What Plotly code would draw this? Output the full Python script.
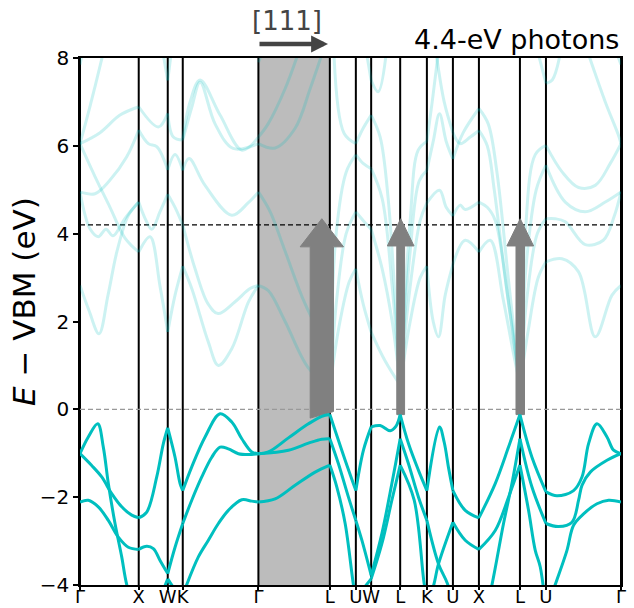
import plotly.graph_objects as go

# ---------------- k-path (ticks) ----------------
K_TICKS = [0.0, 5.87, 8.77, 10.27, 17.83, 24.97, 27.57, 29.1, 32.0, 34.67, 37.27, 39.87, 43.97, 46.57, 54.07]
K_LABELS = ["Γ", "X", "W", "K", "Γ", "L", "U", "W", "L", "K", "U", "X", "L", "U", "Γ"]
E_RANGE = [-4, 8]
E_VBM = 0.0
E_PHOTON = 4.2
SHADE_K = [17.83, 24.97]

# ---------------- valence bands ----------------
VB1_K = [0, 1.17, 2.17, 3.17, 4.17, 5.17, 5.87, 6.67, 7.67, 8.33, 8.77, 9.5, 10.0, 10.27, 11.17, 12.5, 14.0, 15.17,
         16.17, 17.17, 17.83, 18.83, 20.83, 22.83, 24.17, 24.97, 25.5, 26.5, 27.57, 28.33, 29.1, 30.0, 31.0, 31.57,
         32.0, 32.83, 33.83, 34.67, 35.93, 36.4, 36.85, 37.27, 38.5, 39.87, 41.5, 42.83, 43.97, 45.17, 46.57, 47.67,
         49.33, 50.17, 50.83, 51.67, 52.67, 53.33, 54.07]
VB1_E = [-1.01, -1.28, -1.54, -1.92, -2.22, -2.41, -2.47, -2.34, -1.54, -0.78, -0.42, -1.09, -1.69, -1.85, -1.31,
         -0.63, -0.10, -0.29, -0.67, -0.97, -1.01, -0.97, -0.65, -0.33, -0.16, -0.12, -0.48, -1.16, -1.85, -0.93,
         -0.40, -0.37, -0.49, -0.39, -0.12, -0.78, -1.39, -1.85, -0.40, -0.75, -1.35, -1.85, -2.30, -2.47, -1.69,
         -0.86, -0.12, -1.09, -1.88, -1.97, -1.85, -1.54, -0.78, -0.33, -0.63, -0.93, -1.01]

VB2_K = [0, 0.83, 1.77, 2.33, 2.83, 3.5, 4.17, 4.67, 5.87]
VB2_E = [-1.01, -0.63, -0.33, -0.86, -1.69, -2.60, -3.36, -3.99, -4.9]

VB3_K = [0, 0.83, 1.83, 2.83, 3.83, 4.83, 5.87, 6.67, 7.33, 8.0, 8.77, 9.5, 10.27, 11.17, 12.17, 13.17, 14.0, 14.83,
         15.83, 16.83, 17.83, 20.83, 22.83, 24.17, 24.97, 25.83, 26.83, 27.57, 28.17, 29.1, 30.17, 31.17, 32.0, 32.83,
         33.83, 34.67, 35.83, 36.73, 37.27, 39.87, 41.17, 42.33, 43.17, 43.97, 45.17, 46.57, 47.83, 49.17, 49.83,
         50.17, 51.0, 52.67, 54.07]
VB3_E = [-2.11, -2.07, -2.22, -2.53, -2.91, -3.14, -3.19, -3.12, -3.17, -3.44, -3.74, -3.14, -2.60, -2.07, -1.54,
         -1.09, -0.86, -0.90, -1.01, -1.03, -1.01, -0.93, -0.77, -0.68, -0.67, -1.24, -2.0, -2.53, -2.98, -3.78,
         -2.83, -1.69, -0.67, -1.24, -2.0, -2.53, -3.52, -3.97, -4.4, -5.3, -4.0, -2.6, -1.69, -0.67, -1.77, -2.6,
         -2.67, -2.57, -2.07, -1.73, -1.43, -1.16, -1.01]

VB4_K = [5.87, 7.5, 8.77, 9.5, 10.27, 10.67, 11.83, 12.83, 13.83, 14.83, 16.17, 17.17, 17.83, 19.5, 21.5, 23.5, 24.97,
         25.67, 26.5, 27.33, 27.57, 29.1, 30.17, 31.17, 32.0, 33.4, 34.4, 34.67, 35.2, 35.83, 37.27, 38.5, 39.87,
         41.5, 42.83, 43.97, 44.83, 45.5, 46.0, 46.57, 47.5, 48.67, 49.33, 50.33, 51.67, 52.83, 54.07]
VB4_E = [-5.0, -4.5, -3.86, -4.1, -4.25, -3.99, -3.36, -2.98, -2.60, -2.30, -2.06, -2.09, -2.11, -2.04, -1.73, -1.43,
         -1.27, -1.77, -2.6, -4.0, -4.3, -3.86, -3.06, -2.07, -1.27, -2.07, -3.97, -4.25, -4.1, -3.52, -2.57, -2.98,
         -3.19, -2.76, -2.0, -1.27, -2.30, -3.21, -3.59, -4.6, -3.99, -3.21, -2.64, -2.38, -2.15, -2.07, -2.11]

# ---------------- conduction bands ----------------
CB01_K = [0, 0.9, 1.9, 2.8, 3.7, 4.8, 5.87, 6.5, 7.17, 8.0, 8.77, 9.5, 10.27, 11.5, 12.8, 13.8, 15.5, 17.0, 17.83]
CB01_E = [2.82, 2.25, 1.72, 2.6, 3.6, 4.4, 4.72, 4.35, 4.1, 4.5, 4.9, 4.6, 4.2, 3.2, 2.4, 2.18, 2.45, 2.75, 2.82]
CB02_K = [0, 1.5, 3.0, 4.67, 5.87, 6.83, 7.67, 8.77, 9.5, 10.27, 10.9, 12.5, 15.17, 16.8, 17.83]
CB02_E = [4.95, 4.91, 5.22, 5.75, 6.36, 6.05, 5.98, 5.45, 5.8, 5.44, 5.71, 5.1, 4.42, 4.7, 4.95]
CB03_K = [0, 1.5, 3.0, 4.5, 5.87, 7.0, 8.0, 8.77, 9.5, 10.27, 11.17, 12.83, 13.83, 15.17, 16.83, 17.83]
CB03_E = [6.05, 5.3, 4.6, 3.9, 3.58, 3.93, 2.8, 1.76, 2.6, 3.26, 2.75, 1.53, 1.0, 1.38, 2.44, 2.82]
CB04_K = [0, 2.0, 4.0, 5.87, 7.83, 8.77, 9.33, 10.27, 11.2, 12.0, 13.5, 15.3, 17.83]
CB04_E = [6.05, 6.3, 6.7, 6.89, 6.43, 6.74, 6.2, 6.13, 6.9, 7.45, 6.5, 5.94, 6.05]
CB05_K = [0, 1.0, 2.2, 2.8]
CB05_E = [6.05, 6.9, 8.0, 8.6]
CB06_K = [10.27, 11.0, 12.0, 14.0, 16.2, 17.83]
CB06_E = [6.17, 7.0, 7.5, 6.7, 5.9, 6.2]
CB07_K = [0, 0.6]
CB07_E = [7.85, 8.5]
CB08_K = [8.0, 8.77, 9.33]
CB08_E = [8.5, 7.49, 8.5]
CB09_K = [0, 1.0, 1.83, 2.6, 3.3, 4.5, 5.87]
CB09_E = [4.95, 4.11, 3.93, 4.1, 3.95, 4.35, 4.72]
CB10_K = [17.83, 18.83, 20.5, 22.8, 24.97]
CB10_E = [2.82, 2.7, 2.0, 0.95, 0.5]
CB11_K = [17.83, 19.0, 20.5, 22.5, 24.97]
CB11_E = [4.95, 4.5, 3.6, 2.4, 1.3]
CB12_K = [17.83, 19.5, 21.5, 23.0, 24.2]
CB12_E = [6.05, 5.95, 6.4, 7.3, 8.1]
CB13_K = [17.83, 18.8, 20.5, 21.8]
CB13_E = [6.2, 6.5, 7.3, 8.1]
CB14_K = [17.83, 18.5]
CB14_E = [7.9, 8.3]
CB15_K = [24.97, 25.9, 26.9, 27.57, 28.3, 29.1, 30.5, 32.0]
CB15_E = [0.5, 1.9, 2.9, 3.2, 2.4, 1.76, 1.1, 0.55]
CB16_K = [24.97, 25.7, 26.6, 27.57, 28.3, 29.1, 30.2, 31.2, 32.0]
CB16_E = [0.5, 2.6, 4.0, 4.5, 4.3, 4.1, 3.2, 2.0, 0.55]
CB17_K = [24.97, 25.6, 26.6, 27.57, 28.3, 29.1, 30.2, 31.2, 32.0]
CB17_E = [0.5, 4.0, 5.4, 5.8, 5.6, 5.48, 4.8, 2.8, 0.55]
CB18_K = [25.4, 26.4, 27.57, 28.3, 29.1, 30.0, 30.8, 31.5, 32.0]
CB18_E = [8.0, 6.28, 6.05, 6.4, 6.7, 6.2, 4.8, 2.5, 0.55]
CB19_K = [28.5, 29.1, 29.8, 30.6]
CB19_E = [8.3, 7.49, 7.23, 8.1]
CB20_K = [32.0, 33.0, 34.0, 34.67, 35.3, 35.83, 36.5, 37.27, 38.5, 39.87, 41.0, 42.3, 43.3, 43.97]
CB20_E = [0.55, 2.0, 3.0, 3.26, 2.0, 1.65, 2.6, 3.3, 3.85, 3.58, 3.85, 2.5, 1.3, 0.55]
CB21_K = [32.0, 33.0, 34.0, 34.67, 35.93, 36.6, 37.27, 38.0, 38.5, 39.87, 40.7, 41.5, 42.8, 43.97]
CB21_E = [0.55, 2.8, 4.3, 4.7, 4.99, 4.6, 4.4, 4.65, 4.55, 4.72, 4.6, 4.3, 2.5, 0.55]
CB22_K = [32.0, 33.0, 33.9, 34.67, 35.3, 35.93, 36.6, 37.27, 38.3, 39.87, 40.8, 41.67, 42.8, 43.97]
CB22_E = [0.55, 3.6, 5.2, 5.44, 6.1, 6.73, 6.1, 5.7, 6.3, 6.85, 6.5, 5.4, 3.0, 0.55]
CB23_K = [32.0, 33.0, 33.8, 34.67, 35.2, 35.8]
CB23_E = [0.55, 4.3, 5.9, 6.1, 7.0, 8.1]
CB24_K = [35.6, 36.4, 37.27, 38.0, 39.0, 39.87, 40.7, 41.4, 42.6, 43.97]
CB24_E = [8.1, 7.0, 6.3, 6.05, 6.2, 6.35, 6.0, 5.0, 2.8, 0.55]
CB25_K = [43.97, 44.8, 45.8, 46.57, 48.17, 49.83, 51.5, 53.17, 54.07]
CB25_E = [0.55, 1.8, 3.0, 3.36, 3.43, 3.13, 1.65, 2.6, 2.82]
CB26_K = [43.97, 44.7, 45.7, 46.57, 47.5, 48.5, 50.5, 52.3, 53.4, 54.07]
CB26_E = [0.55, 2.6, 4.0, 4.34, 4.34, 4.27, 3.75, 3.85, 4.4, 4.95]
CB27_K = [43.97, 44.6, 45.6, 46.57, 48.5, 50.5, 52.5, 54.07]
CB27_E = [0.55, 3.3, 5.0, 5.56, 4.72, 4.5, 4.72, 4.95]
CB28_K = [43.97, 44.5, 45.5, 46.57, 48.2, 49.83, 51.5, 53.0, 54.07]
CB28_E = [0.55, 4.0, 5.8, 6.01, 5.4, 5.05, 5.1, 5.6, 6.05]
CB29_K = [50.8, 52.5, 53.8, 54.07]
CB29_E = [8.1, 7.0, 6.25, 6.05]
CB30_K = [53.5, 54.07]
CB30_E = [8.2, 7.85]
CB31_K = [45.8, 46.57, 47.2, 48.0]
CB31_E = [8.1, 7.42, 7.5, 8.1]

# ---------------- transition arrows ----------------
ARROW_K = [24.17, 32.05, 44.0]
ARROW_E_FROM_LEFT = [-0.2, -0.12, -0.12]
ARROW_E_FROM_RIGHT = [-0.05, -0.12, -0.12]
ARROW_E_TO = [4.34, 4.34, 4.34]
ARROW_SHAFT_W = [2.33, 0.78, 0.85]
ARROW_HEAD_W = [4.33, 2.67, 2.67]
ARROW_HEAD_LEN = [0.64, 0.62, 0.62]

VALENCE = [(VB1_K, VB1_E), (VB2_K, VB2_E), (VB3_K, VB3_E), (VB4_K, VB4_E)]
CONDUCTION = [
    (CB01_K, CB01_E), (CB02_K, CB02_E), (CB03_K, CB03_E), (CB04_K, CB04_E), (CB05_K, CB05_E),
    (CB06_K, CB06_E), (CB07_K, CB07_E), (CB08_K, CB08_E), (CB09_K, CB09_E), (CB10_K, CB10_E),
    (CB11_K, CB11_E), (CB12_K, CB12_E), (CB13_K, CB13_E), (CB14_K, CB14_E), (CB15_K, CB15_E),
    (CB16_K, CB16_E), (CB17_K, CB17_E), (CB18_K, CB18_E), (CB19_K, CB19_E), (CB20_K, CB20_E),
    (CB21_K, CB21_E), (CB22_K, CB22_E), (CB23_K, CB23_E), (CB24_K, CB24_E), (CB25_K, CB25_E),
    (CB26_K, CB26_E), (CB27_K, CB27_E), (CB28_K, CB28_E), (CB29_K, CB29_E), (CB30_K, CB30_E),
    (CB31_K, CB31_E),
]

TEAL = "#00bfbf"
TEAL_PALE = "rgba(0,191,191,0.2)"
FONT = "DejaVu Sans"


def segmented(ks, es):
    """Split a band at every high-symmetry point so kinks are kept."""
    xs, ys = [], []
    for a, b in zip(K_TICKS[:-1], K_TICKS[1:]):
        pts = [(k, e) for k, e in zip(ks, es) if a - 1e-9 <= k <= b + 1e-9]
        if len(pts) >= 2:
            xs += [p[0] for p in pts] + [None]
            ys += [p[1] for p in pts] + [None]
    return xs, ys


fig = go.Figure()

# conduction bands (pale)
for ks, es in CONDUCTION:
    x, y = segmented(ks, es)
    fig.add_trace(go.Scatter(x=x, y=y, mode="lines", line=dict(color=TEAL_PALE, width=3, shape="spline", smoothing=1.0),
                             connectgaps=False, hoverinfo="skip", showlegend=False))

# arrows (filled polygons)
for c, e0l, e0r, e1, sw, hw, hl in zip(ARROW_K, ARROW_E_FROM_LEFT, ARROW_E_FROM_RIGHT, ARROW_E_TO,
                                       ARROW_SHAFT_W, ARROW_HEAD_W, ARROW_HEAD_LEN):
    base = e1 - hl
    px = [c - sw / 2, c - sw / 2, c - hw / 2, c, c + hw / 2, c + sw / 2, c + sw / 2, c - sw / 2]
    py = [e0l, base, base, e1, base, base, e0r, e0l]
    fig.add_trace(go.Scatter(x=px, y=py, mode="lines", fill="toself", fillcolor="#808080",
                             line=dict(color="#808080", width=1), hoverinfo="skip", showlegend=False))

# valence bands
for ks, es in VALENCE:
    x, y = segmented(ks, es)
    fig.add_trace(go.Scatter(x=x, y=y, mode="lines", line=dict(color=TEAL, width=3, shape="spline", smoothing=1.0),
                             connectgaps=False, hoverinfo="skip", showlegend=False))

shapes = [dict(type="rect", xref="x", yref="paper", x0=SHADE_K[0], x1=SHADE_K[1], y0=0, y1=1,
               fillcolor="#bcbcbc", line=dict(width=0), layer="below")]
for k in K_TICKS:
    shapes.append(dict(type="line", xref="x", yref="paper", x0=k, x1=k, y0=0, y1=1,
                       line=dict(color="black", width=2), layer="below"))
shapes.append(dict(type="line", xref="paper", yref="y", x0=0, x1=1, y0=E_PHOTON, y1=E_PHOTON,
                   line=dict(color="black", width=1.3, dash="5px,3px"), layer="below"))
shapes.append(dict(type="line", xref="paper", yref="y", x0=0, x1=1, y0=E_VBM, y1=E_VBM,
                   line=dict(color="#999999", width=1.3, dash="5px,3px"), layer="below"))

annotations = [
    dict(text="<i>E</i> − VBM (eV)", xref="paper", yref="paper", x=-0.1035, y=0.537, textangle=-90,
         showarrow=False, xanchor="center", yanchor="middle", font=dict(size=31, color="black", family=FONT)),
    dict(text="4.4-eV photons", xref="paper", yref="paper", x=1.0, y=1.036, showarrow=False,
         xanchor="right", yanchor="middle", font=dict(size=27, color="black", family=FONT)),
    dict(text="[111]", xref="paper", yref="paper", x=0.3821, y=1.0697, showarrow=False,
         xanchor="center", yanchor="middle", font=dict(size=26, color="#444444", family=FONT)),
    dict(text="", xref="paper", yref="paper", x=0.4584, y=1.0266, ax=-70, ay=0, showarrow=True,
         arrowhead=2, arrowsize=0.75, arrowwidth=4.5, arrowcolor="#444444", standoff=0),
]

fig.update_layout(
    width=634, height=608,
    margin=dict(l=80, r=13, t=58, b=23),
    plot_bgcolor="white", paper_bgcolor="white",
    font=dict(family=FONT, size=20, color="black"),
    shapes=shapes, annotations=annotations,
    xaxis=dict(range=[K_TICKS[0], K_TICKS[-1]], tickmode="array", tickvals=K_TICKS, ticktext=K_LABELS,
               tickangle=0, automargin=False, ticklabelstandoff=-8,
               ticks="outside", ticklen=3, tickwidth=1.5, tickcolor="black", showgrid=False, zeroline=False,
               showline=True, mirror=True, linecolor="black", linewidth=1.5, tickfont=dict(size=18)),
    yaxis=dict(range=E_RANGE, tickmode="linear", tick0=-4, dtick=2, ticks="outside", ticklen=5, tickwidth=1.5,
               automargin=False,
               tickcolor="black", showgrid=False, zeroline=False, showline=True, mirror=True, linecolor="black",
               linewidth=1.5, tickfont=dict(size=20)),
)

fig.write_html("out.html")
